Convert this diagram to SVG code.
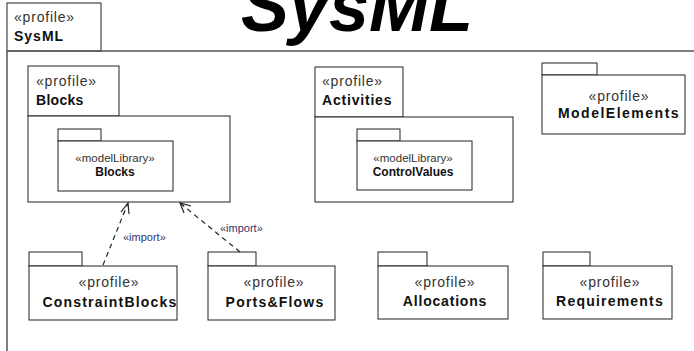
<svg xmlns="http://www.w3.org/2000/svg" width="694" height="351" viewBox="0 0 694 351">
<style>
.box{fill:#fff;stroke:#222;stroke-width:1}
.st{font-family:"Liberation Sans",Arial,sans-serif;font-size:14px;fill:#333;letter-spacing:0.8px}
.nm{font-family:"Liberation Sans",Arial,sans-serif;font-size:14px;font-weight:bold;fill:#111;letter-spacing:1px}
.sst{font-family:"Liberation Sans",Arial,sans-serif;font-size:11.5px;fill:#333}
.snm{font-family:"Liberation Sans",Arial,sans-serif;font-size:12px;font-weight:bold;fill:#111}
.imp{font-family:"Liberation Sans",Arial,sans-serif;font-size:11px;fill:#33336a}
.dep{fill:none;stroke:#222;stroke-width:1.2;stroke-dasharray:5,4}
.head{fill:none;stroke:#222;stroke-width:1.2}
</style>
<rect width="694" height="351" fill="#fff"/>
<text x="241" y="31" font-family="Liberation Sans,Arial,sans-serif" font-size="72" font-weight="bold" font-style="italic" fill="#000">SysML</text>
<g id="frame">
<rect class="box" x="7" y="3" width="94" height="48"/>
<path d="M7,51 V360 M7,51 H700" fill="none" stroke="#555" stroke-width="1.5"/>
<text class="st" x="14" y="22">«profile»</text>
<text class="nm" x="14" y="41">SysML</text>
</g>
<g id="blocks">
<rect class="box" x="28" y="66" width="91" height="50"/>
<rect class="box" x="28" y="116" width="202" height="86"/>
<text class="st" x="36" y="86">«profile»</text>
<text class="nm" x="36" y="105" style="letter-spacing:0.3px">Blocks</text>
<g id="blocksLib">
<rect class="box" x="58" y="129" width="43" height="12"/>
<rect class="box" x="58" y="141" width="115" height="50"/>
<text class="sst" x="115" y="162" text-anchor="middle">«modelLibrary»</text>
<text class="snm" x="115" y="176" text-anchor="middle">Blocks</text>
</g>
</g>
<g id="activities">
<rect class="box" x="315" y="67" width="88" height="50"/>
<rect class="box" x="315" y="117" width="198" height="85"/>
<text class="st" x="322" y="86">«profile»</text>
<text class="nm" x="322" y="105" style="letter-spacing:0.8px">Activities</text>
<g id="controlValues">
<rect class="box" x="357" y="129" width="43" height="12"/>
<rect class="box" x="357" y="141" width="115" height="49"/>
<text class="sst" x="413" y="162" text-anchor="middle">«modelLibrary»</text>
<text class="snm" x="413" y="176" text-anchor="middle">ControlValues</text>
</g>
</g>
<g id="modelElements">
<rect class="box" x="542" y="63" width="55" height="12"/>
<rect class="box" x="542" y="75" width="143" height="59"/>
<text class="st" x="619" y="101" text-anchor="middle">«profile»</text>
<text class="nm" x="619" y="118" text-anchor="middle" style="letter-spacing:1.5px">ModelElements</text>
</g>
<g id="constraintBlocks">
<rect class="box" x="29" y="252" width="53" height="14"/>
<rect class="box" x="29" y="266" width="148" height="54"/>
<text class="st" x="109" y="287" text-anchor="middle">«profile»</text>
<text class="nm" x="110" y="307" text-anchor="middle" style="letter-spacing:1.2px">ConstraintBlocks</text>
</g>
<g id="portsFlows">
<rect class="box" x="208" y="252" width="48" height="14"/>
<rect class="box" x="208" y="266" width="127" height="54"/>
<text class="st" x="274" y="287" text-anchor="middle">«profile»</text>
<text class="nm" x="275" y="307" text-anchor="middle" style="letter-spacing:1.2px">Ports&amp;Flows</text>
</g>
<g id="allocations">
<rect class="box" x="378" y="252" width="49" height="14"/>
<rect class="box" x="378" y="266" width="130" height="53"/>
<text class="st" x="445" y="287" text-anchor="middle">«profile»</text>
<text class="nm" x="445" y="306" text-anchor="middle" style="letter-spacing:0.8px">Allocations</text>
</g>
<g id="requirements">
<rect class="box" x="543" y="252" width="47" height="14"/>
<rect class="box" x="543" y="266" width="129" height="53"/>
<text class="st" x="610" y="287" text-anchor="middle">«profile»</text>
<text class="nm" x="610" y="306" text-anchor="middle" style="letter-spacing:1.2px">Requirements</text>
</g>
<g id="connectors">
<path class="dep" d="M103,265 L128,203"/>
<path class="head" d="M121,212 L128,203 L129,214"/>
<text class="imp" x="123" y="241">«import»</text>
<path class="dep" d="M240,252 L180,203"/>
<path class="head" d="M184,213 L180,203 L191,206"/>
<text class="imp" x="220" y="232">«import»</text>
</g>
</svg>
